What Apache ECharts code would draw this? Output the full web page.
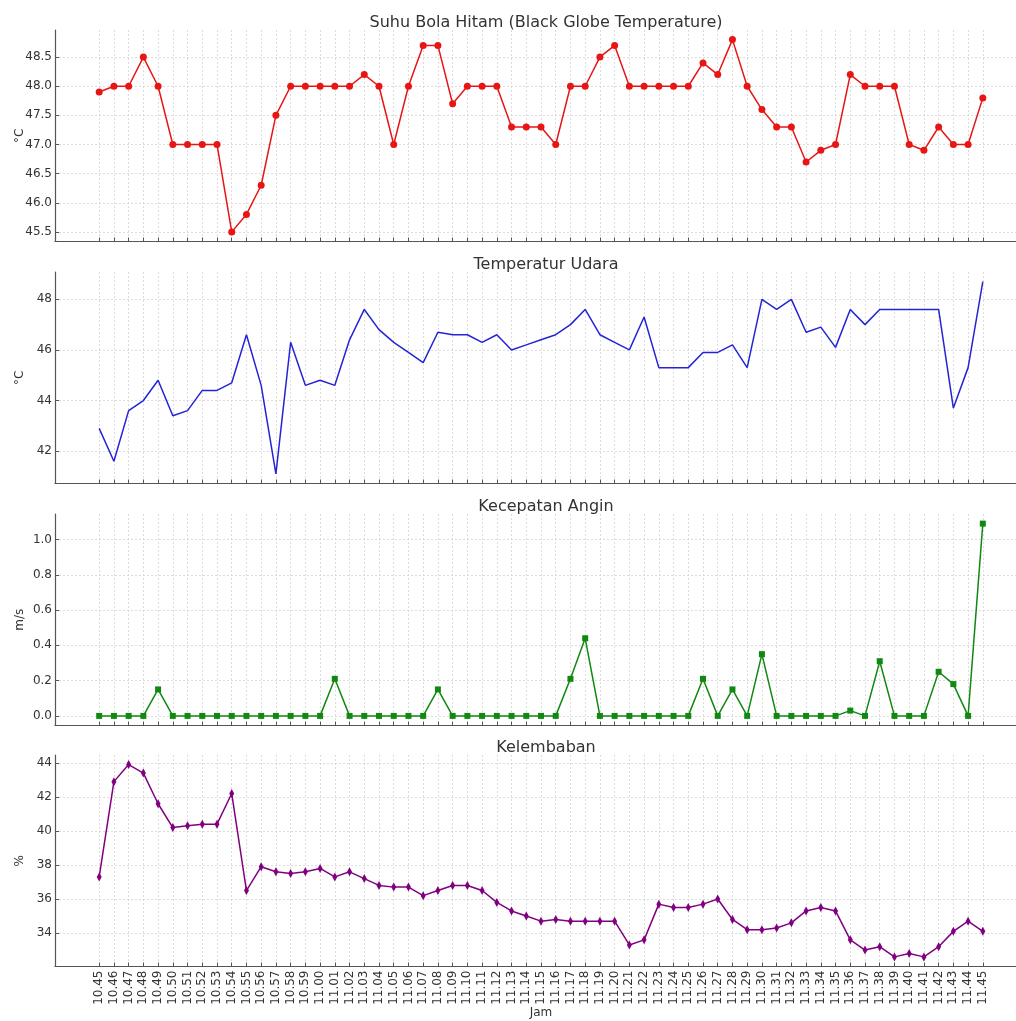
<!DOCTYPE html>
<html><head><meta charset="utf-8">
<script src="https://cdn.jsdelivr.net/npm/echarts@6/dist/echarts.min.js"></script>
<style>html,body{margin:0;padding:0;background:#fff}#c{width:1016px;height:1021px}</style>
</head><body><div id="c"></div>
<script>
const times = ['10.45','10.46','10.47','10.48','10.49','10.50','10.51','10.52','10.53','10.54','10.55','10.56','10.57','10.58','10.59',
'11.00','11.01','11.02','11.03','11.04','11.05','11.06','11.07','11.08','11.09','11.10','11.11','11.12','11.13','11.14','11.15','11.16','11.17','11.18','11.19',
'11.20','11.21','11.22','11.23','11.24','11.25','11.26','11.27','11.28','11.29','11.30','11.31','11.32','11.33','11.34','11.35','11.36','11.37','11.38','11.39',
'11.40','11.41','11.42','11.43','11.44','11.45'];
const globeTemp = [47.9,48.0,48.0,48.5,48.0,47.0,47.0,47.0,47.0,45.5,
45.8,46.3,47.5,48.0,48.0,48.0,48.0,48.0,48.2,48.0,
47.0,48.0,48.7,48.7,47.7,48.0,48.0,48.0,47.3,47.3,
47.3,47.0,48.0,48.0,48.5,48.7,48.0,48.0,48.0,48.0,
48.0,48.4,48.2,48.8,48.0,47.6,47.3,47.3,46.7,46.9,
47.0,48.2,48.0,48.0,48.0,47.0,46.9,47.3,47.0,47.0,47.8];
const airTemp = [42.9,41.6,43.6,44.0,44.8,43.4,43.6,44.4,44.4,44.7,
46.6,44.6,41.1,46.3,44.6,44.8,44.6,46.4,47.6,46.8,
46.3,45.9,45.5,46.7,46.6,46.6,46.3,46.6,46.0,46.2,
46.4,46.6,47.0,47.6,46.6,46.3,46.0,47.3,45.3,45.3,
45.3,45.9,45.9,46.2,45.3,48.0,47.6,48.0,46.7,46.9,
46.1,47.6,47.0,47.6,47.6,47.6,47.6,47.6,43.7,45.3,48.7];
const windSpeed = [0,0,0,0,0.15,0,0,0,0,0,
0,0,0,0,0,0,0.21,0,0,0,
0,0,0,0.15,0,0,0,0,0,0,
0,0,0.21,0.44,0,0,0,0,0,0,
0,0.21,0,0.15,0,0.35,0,0,0,0,
0,0.03,0,0.31,0,0,0,0.25,0.18,0,1.09];
const humidity = [37.3,42.9,43.9,43.4,41.6,40.2,40.3,40.4,40.4,42.2,
36.5,37.9,37.6,37.5,37.6,37.8,37.3,37.6,37.2,36.8,
36.7,36.7,36.2,36.5,36.8,36.8,36.5,35.8,35.3,35.0,
34.7,34.8,34.7,34.7,34.7,34.7,33.3,33.6,35.7,35.5,
35.5,35.7,36.0,34.8,34.2,34.2,34.3,34.6,35.3,35.5,
35.3,33.6,33.0,33.2,32.6,32.8,32.6,33.2,34.1,34.7,34.1];
const globeTicks = [45.5,46.0,46.5,47.0,47.5,48.0,48.5];
const airTicks = [42,44,46,48];
const windTicks = [0,0.2,0.4,0.6,0.8,1.0];
const humTicks = [34,36,38,40,42,44];
const titles = ['Suhu Bola Hitam (Black Globe Temperature)','Temperatur Udara','Kecepatan Angin','Kelembaban'];
const units = ['°C','°C','m/s','%'];
const xName = 'Jam';

const FONT = 'DejaVu Sans';
const panels = [
  {data: globeTemp, ticks: globeTicks, dec: 1, color: '#e81515', symbol: 'circle', size: 7},
  {data: airTemp, ticks: airTicks, dec: 0, color: '#2424d6', symbol: 'none', size: 0},
  {data: windSpeed, ticks: windTicks, dec: 1, color: '#118811', symbol: 'rect', size: 6},
  {data: humidity, ticks: humTicks, dec: 0, color: '#800080', symbol: 'diamond', size: [5, 9]}
];
const tops = [30, 272, 514, 755];
const H = 211.5;
const idx = times.map((_, i) => i);
const n = times.length - 1;
const grid = [], xAxis = [], yAxis = [], series = [], title = [];
const axisColor = '#555';
const gridLine = {show: true, lineStyle: {color: '#d4d4d4', type: [2, 2], width: 0.8}};
panels.forEach((p, k) => {
  grid.push({left: 55, width: 972, top: tops[k], height: H, containLabel: false, outerBoundsMode: 'none'});
  title.push({text: titles[k], left: 541, top: tops[k] - 20, textAlign: 'center',
    textStyle: {fontFamily: FONT, fontSize: 16, fontWeight: 'normal', color: '#333'}});
  const last = k === panels.length - 1;
  xAxis.push({type: 'value', gridIndex: k, min: -0.05 * n, max: n * 1.05,
    axisLine: {show: true, onZero: false, lineStyle: {color: axisColor, width: 1.2}},
    axisTick: {show: true, inside: true, length: 4, customValues: idx, lineStyle: {color: axisColor}},
    axisLabel: {show: last, customValues: idx, rotate: 90, margin: 4, fontFamily: FONT, fontSize: 12, color: '#333',
      formatter: v => times[Math.round(v)] || ''},
    splitLine: gridLine,
    name: last ? xName : '', nameLocation: 'middle', nameGap: 40, nameMoveOverlap: false,
    nameTextStyle: {fontFamily: FONT, fontSize: 12, color: '#333'}
  });
  const mn = Math.min(...p.data), mx = Math.max(...p.data), r = mx - mn;
  yAxis.push({type: 'value', gridIndex: k, min: mn - 0.05 * r, max: mx + 0.05 * r,
    axisLine: {show: true, onZero: false, lineStyle: {color: axisColor, width: 1.2}},
    axisTick: {show: true, inside: true, length: 4, customValues: p.ticks, lineStyle: {color: axisColor}},
    axisLabel: {customValues: p.ticks, margin: 3, fontFamily: FONT, fontSize: 12, color: '#333',
      formatter: v => v.toFixed(p.dec)},
    splitLine: gridLine,
    name: units[k], nameLocation: 'middle', nameGap: 29, nameMoveOverlap: false,
    nameTextStyle: {fontFamily: FONT, fontSize: 12, color: '#333'}
  });
  series.push({type: 'line', xAxisIndex: k, yAxisIndex: k,
    data: p.data.map((v, i) => [i, v]),
    symbol: p.symbol, symbolSize: p.size, showSymbol: p.symbol !== 'none',
    lineStyle: {color: p.color, width: 1.5}, itemStyle: {color: p.color},
    emphasis: {disabled: true}
  });
});
const chart = echarts.init(document.getElementById('c'), null, {renderer: 'canvas'});
chart.setOption({animation: false, backgroundColor: '#fff', title, grid, xAxis, yAxis, series});
</script></body></html>
